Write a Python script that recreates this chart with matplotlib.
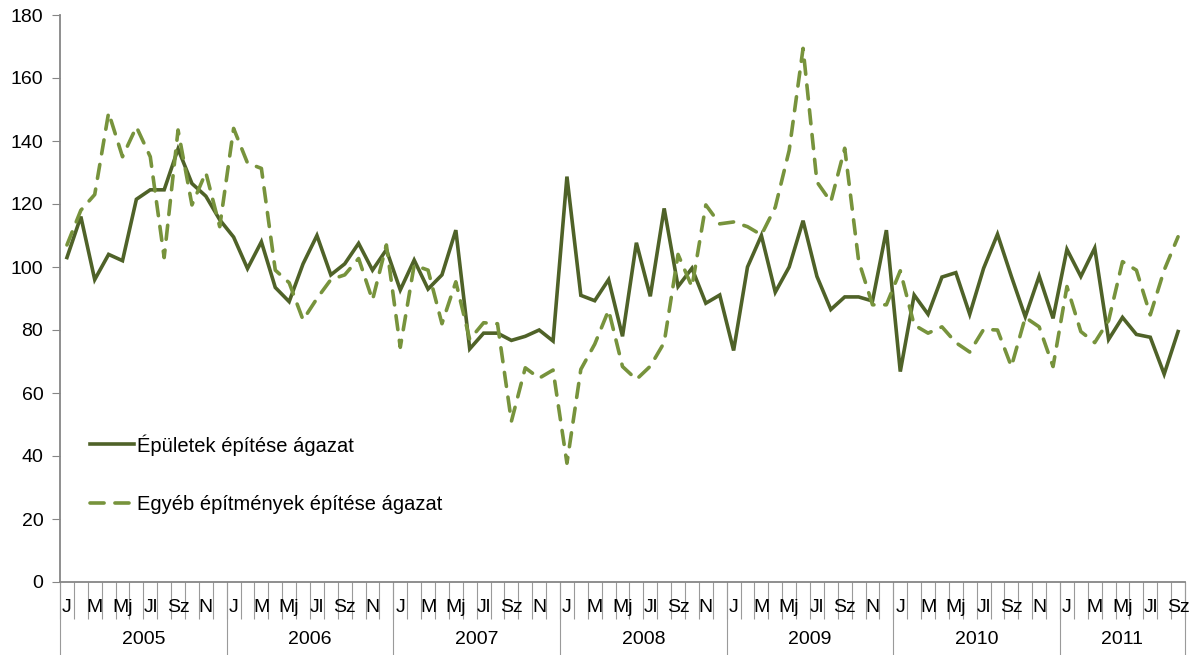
import matplotlib
matplotlib.use("Agg")
import matplotlib.pyplot as plt

plt.rcParams['font.family'] = ['Liberation Sans', 'DejaVu Sans']

years = ['2005', '2006', '2007', '2008', '2009', '2010', '2011']
months_per_year = [12, 12, 12, 12, 12, 12, 9]
month_labels = ['J', '', 'M', '', 'Mj', '', 'Jl', '', 'Sz', '', 'N', '']

epuletek = [
    103, 116, 96, 104, 102, 121.5, 124.5, 124.5, 137.5, 126.5, 122.5, 115,
    109.5, 99.5, 108, 93.5, 89, 101, 110, 97.5, 101, 107.5, 99, 105.5,
    92.7, 102.2, 93, 97.5, 111.7, 74, 79, 79, 76.7, 78, 80, 76.5,
    128.7, 91, 89.3, 96, 78, 107.7, 90.7, 118.6, 93.8, 99.6, 88.5, 91.1,
    73.5, 100, 110, 92, 100, 114.7, 97, 86.5, 90.5, 90.5, 89.2, 111.7,
    66.8, 91.1, 85, 96.8, 98.2, 85, 99.6, 110.4, 97, 84.2, 97.1, 83.7,
    105.6, 97, 106, 77, 84, 78.6, 77.7, 66, 79.5,
]
egyeb = [
    107, 118, 123, 149, 135, 144.5, 135, 103, 143.5, 119.7, 130, 112.8,
    144, 133, 131.3, 99, 95, 83.2, 90, 96, 97.5, 102.7, 89.5, 107,
    74.5, 100.6, 99, 82, 95.3, 77, 82.3, 82, 51, 68, 64.7, 67.3,
    37.7, 67.5, 75.5, 86.3, 68.4, 64.3, 68.5, 76, 104, 93.7, 119.7, 113.7,
    114.3, 112.8, 110.2, 119, 137, 169.4, 127, 120.7, 137.7, 102, 88, 88,
    98.8, 81.6, 79, 81, 76, 73, 80.2, 80, 68.4, 84, 81, 68.4,
    93.8, 79.5, 76, 83, 101.7, 99, 84.8, 99, 109.6,
]
series_names = ['Épületek építése ágazat', 'Egyéb építmények építése ágazat']

W, H = 1193, 655
fig = plt.figure(figsize=(W / 100, H / 100), dpi=100)
L, R, T, B = 60, 1185, 15, 582
ax = fig.add_axes([L / W, 1 - B / H, (R - L) / W, (B - T) / H])

n = len(epuletek)
x = [i + 0.5 for i in range(n)]
ax.plot(x, epuletek, color='#4F6228', lw=2.6, solid_joinstyle='miter',
        label=series_names[0])
ax.plot(x, egyeb, color='#77933C', lw=2.6, linestyle=(0, (3.9, 3.0)),
        dash_capstyle='round', label=series_names[1])

ax.set_xlim(0, n)
ax.set_ylim(0, 180)
ax.set_yticks(range(0, 181, 20))
ax.tick_params(axis='y', length=6, color='#868686', labelsize=14, pad=6,
               labelcolor='black')

for s in ['top', 'right']:
    ax.spines[s].set_visible(False)
for s in ['left', 'bottom']:
    ax.spines[s].set_color('#868686')
    ax.spines[s].set_linewidth(1.3)

# x axis: category boundary ticks
axh = B - T
ax.set_xticks(range(0, n + 1))
ax.set_xticklabels([])
ax.tick_params(axis='x', length=37 * 0.72, color='#9a9a9a', width=0.8)

trans = ax.get_xaxis_transform()
idx = 0
for y, m in zip(years, months_per_year):
    for k in range(m):
        lab = month_labels[k]
        if lab:
            ax.text(idx + k + 0.5, -25 / axh, lab, transform=trans,
                    ha='center', va='center', fontsize=14)
    ax.text(idx + m / 2, -58 / axh, y, transform=trans, ha='center',
            va='center', fontsize=14)
    idx += m

bounds = [0]
for m in months_per_year:
    bounds.append(bounds[-1] + m)
for b in bounds:
    ax.plot([b, b], [0, -75 / axh], transform=trans, color='#9a9a9a',
            lw=0.8, clip_on=False)

leg = ax.legend(loc='upper left', bbox_to_anchor=(90 / W, 1 - 434 / H),
                bbox_transform=fig.transFigure, frameon=False, fontsize=14.5,
                handlelength=2.2, handletextpad=0.12, labelspacing=1.95,
                borderpad=0, borderaxespad=0)

fig.savefig('out.png', dpi=100)
